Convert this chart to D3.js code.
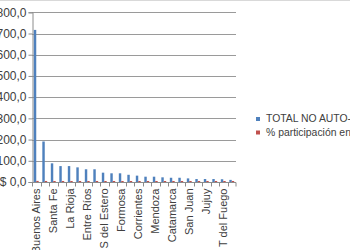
<!DOCTYPE html>
<html>
<head>
<meta charset="utf-8">
<script src="https://cdn.jsdelivr.net/npm/d3@7"></script>
<style>
  body { margin: 0; background: #fff; overflow: hidden; }
  text { font-family: "Liberation Sans", "DejaVu Sans", sans-serif; fill: #404040; }
</style>
</head>
<body>
<div id="chart-area"></div>
<script>
const provinces = ["Buenos Aires", "Córdoba", "Santa Fe", "Chaco", "La Rioja", "Tucumán",
    "Entre Ríos", "Misiones", "S del Estero", "Salta", "Formosa", "CABA",
    "Corrientes", "Neuquén", "Mendoza", "Río Negro", "Catamarca", "Chubut",
    "San Juan", "San Luis", "Jujuy", "Santa Cruz", "T del Fuego", "La Pampa"];
const totalNoAuto = [717, 191, 88, 75, 75, 69, 60, 60, 44, 41, 41, 34,
    30, 25, 25, 22, 20, 20, 17, 14, 14, 14, 13, 10];
const pctParticipacion = [0.38, 0.10, 0.05, 0.04, 0.04, 0.04, 0.03, 0.03, 0.02, 0.02, 0.02, 0.02,
    0.02, 0.01, 0.01, 0.01, 0.01, 0.01, 0.01, 0.01, 0.01, 0.01, 0.01, 0.01];
const yTicks = [0, 100, 200, 300, 400, 500, 600, 700, 800];
const yTickLabels = ["$ 0,0", "$ 100,0", "$ 200,0", "$ 300,0", "$ 400,0", "$ 500,0", "$ 600,0", "$ 700,0", "$ 800,0"];
const seriesNames = ["TOTAL NO AUTO-MOTOR", "% participación en el total"];
const colors = ["#4f81bd", "#c0504d"];

const svgWidth = 350, svgHeight = 250;
const plotLeft = 32, plotRight = 236, plotTop = 12.3, plotBottom = 182;

const svg = d3.select("#chart-area")
    .append("svg")
    .attr("width", svgWidth)
    .attr("height", svgHeight);

// borde superior del área del gráfico
svg.append("line")
    .attr("x1", 0).attr("x2", svgWidth)
    .attr("y1", 0.5).attr("y2", 0.5)
    .attr("stroke", "#d9d9d9");

const xScale = d3.scaleBand()
    .domain(provinces)
    .range([plotLeft, plotRight]);

const xInner = d3.scaleBand()
    .domain([0, 1])
    .range([0, xScale.bandwidth()])
    .paddingInner(0)
    .paddingOuter(0.75);

const yScale = d3.scaleLinear()
    .domain([0, 800])
    .range([plotBottom, plotTop]);

// grid
svg.append("g")
    .selectAll("line")
    .data(yTicks.slice(1))
    .join("line")
    .attr("x1", plotLeft).attr("x2", plotRight)
    .attr("y1", d => Math.round(yScale(d)) + 0.5)
    .attr("y2", d => Math.round(yScale(d)) + 0.5)
    .attr("stroke", "#9a9a9a")
    .attr("stroke-width", 1);

// y axis
const yAxis = svg.append("g")
    .attr("transform", `translate(${plotLeft + 0.5},0)`)
    .call(d3.axisLeft(yScale)
        .tickValues(yTicks)
        .tickSize(4)
        .tickPadding(2)
        .tickFormat((d, i) => yTickLabels[i]));
yAxis.select(".domain").attr("stroke", "#8c8c8c");
yAxis.selectAll("line").attr("stroke", "#8c8c8c");
yAxis.selectAll("text")
    .style("font-size", "12px")
    .style("fill", "#404040");

// bars
const groups = svg.append("g")
    .selectAll("g")
    .data(provinces)
    .join("g")
    .attr("transform", d => `translate(${xScale(d)},0)`);

groups.append("rect")
    .attr("x", xInner(0))
    .attr("width", xInner.bandwidth())
    .attr("y", (d, i) => yScale(totalNoAuto[i]))
    .attr("height", (d, i) => plotBottom - yScale(totalNoAuto[i]))
    .attr("fill", colors[0]);

groups.append("rect")
    .attr("x", xInner(1))
    .attr("width", xInner.bandwidth())
    .attr("y", (d, i) => yScale(pctParticipacion[i]) - 1)
    .attr("height", (d, i) => plotBottom - yScale(pctParticipacion[i]) + 1)
    .attr("fill", colors[1]);

// x axis
const xAxisG = svg.append("g")
    .attr("transform", `translate(0,${Math.round(plotBottom) + 0.5})`);
xAxisG.append("line")
    .attr("x1", plotLeft).attr("x2", plotRight)
    .attr("stroke", "#8c8c8c");
xAxisG.selectAll(".tick-mark")
    .data(provinces.concat(["end"]))
    .join("line")
    .attr("class", "tick-mark")
    .attr("x1", d => d === "end" ? plotRight : Math.round(xScale(d)) + 0.5)
    .attr("x2", d => d === "end" ? plotRight : Math.round(xScale(d)) + 0.5)
    .attr("y1", 0).attr("y2", 4)
    .attr("stroke", "#8c8c8c");
xAxisG.selectAll(".cat-label")
    .data(provinces.filter((d, i) => i % 2 === 0))
    .join("text")
    .attr("class", "cat-label")
    .attr("transform", d => `translate(${xScale(d) + xScale.bandwidth() / 2 + 4},6) rotate(-90)`)
    .attr("text-anchor", "end")
    .style("font-size", "11px")
    .text(d => d);

// legend
const legend = svg.append("g")
    .selectAll("g")
    .data(seriesNames)
    .join("g")
    .attr("transform", (d, i) => `translate(256,${117 + i * 13.5})`);
legend.append("rect")
    .attr("width", 4).attr("height", 4)
    .attr("fill", (d, i) => colors[i]);
legend.append("text")
    .attr("x", 10)
    .attr("y", 5)
    .style("font-size", "10.4px")
    .text(d => d);
</script>
</body>
</html>
